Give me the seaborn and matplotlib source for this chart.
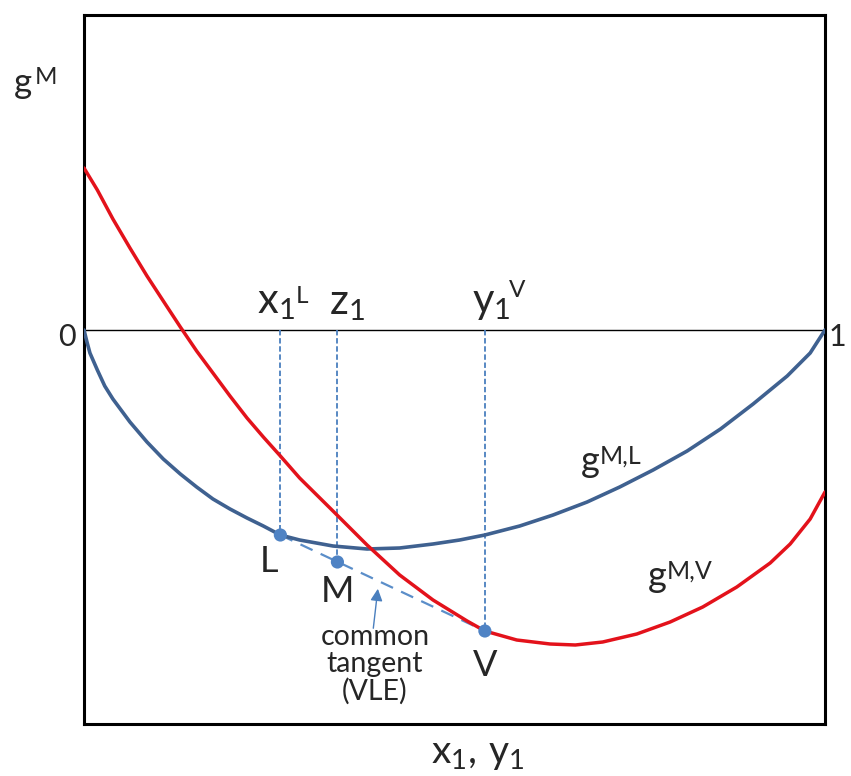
import matplotlib
matplotlib.use("Agg")
import matplotlib.pyplot as plt
import seaborn as sns
import pandas as pd

# ---- data (x = mole fraction, y = g^M in arbitrary units) ----
liq_x = [0.0, 0.004, 0.008, 0.018, 0.028, 0.039, 0.062, 0.085, 0.107, 0.130, 0.152,
         0.174, 0.197, 0.220, 0.242, 0.265, 0.291, 0.336, 0.382, 0.426, 0.471, 0.507,
         0.541, 0.588, 0.633, 0.679, 0.723, 0.768, 0.814, 0.859, 0.903, 0.949, 0.980, 1.0]
liq_y = [0.0, -0.12, -0.23, -0.40, -0.56, -0.69, -0.92, -1.12, -1.29, -1.44, -1.57,
         -1.69, -1.79, -1.88, -1.96, -2.05, -2.10, -2.16, -2.19, -2.18, -2.14, -2.10,
         -2.05, -1.96, -1.85, -1.72, -1.57, -1.40, -1.21, -0.99, -0.74, -0.46, -0.23, 0.0]
vap_x = [0.0, 0.018, 0.039, 0.062, 0.085, 0.107, 0.130, 0.152, 0.174, 0.197, 0.220,
         0.242, 0.265, 0.291, 0.336, 0.382, 0.426, 0.471, 0.517, 0.541, 0.584, 0.629,
         0.663, 0.700, 0.746, 0.791, 0.835, 0.881, 0.926, 0.953, 0.980, 1.0]
vap_y = [1.62, 1.40, 1.11, 0.82, 0.54, 0.29, 0.03, -0.21, -0.43, -0.66, -0.88,
         -1.07, -1.26, -1.48, -1.81, -2.15, -2.45, -2.70, -2.91, -3.01, -3.10, -3.14,
         -3.15, -3.12, -3.04, -2.92, -2.77, -2.57, -2.33, -2.14, -1.89, -1.62]
pt_names = ["L", "M", "V"]
pt_x = [0.265, 0.342, 0.541]
pt_y = [-2.05, -2.32, -3.01]
x_ticklabels = ["0", "1"]

liq = pd.DataFrame({"x": liq_x, "g": liq_y})
vap = pd.DataFrame({"x": vap_x, "g": vap_y})
pts = pd.DataFrame({"x": pt_x, "g": pt_y, "name": pt_names})

sns.set_theme(style="white")
plt.rcParams["font.family"] = ["Lato", "DejaVu Sans"]
plt.rcParams["mathtext.fontset"] = "custom"
plt.rcParams["mathtext.rm"] = "Lato"
plt.rcParams["mathtext.it"] = "Lato"
plt.rcParams["mathtext.bf"] = "Lato:bold"

W, H = 851, 776
fig = plt.figure(figsize=(W / 100, H / 100), dpi=100)
L, R, T, B = 84, 825, 15, 724
ax = fig.add_axes([L / W, 1 - B / H, (R - L) / W, (B - T) / H])
ax.set_xlim(0, 1)
ax.set_ylim(-3.94, 3.15)

BLUE = "#3f6190"
RED = "#e3121b"
LBLUE = "#4a7fbe"

# zero line
ax.axhline(0, color="black", lw=1.0, zorder=1)

# vertical dashed guides
for xv, yv in zip(pt_x, pt_y):
    ax.plot([xv, xv], [0, yv], color=LBLUE, lw=1.3, ls=(0, (3, 1.5)), zorder=2)

# common tangent (through L and V)
ax.plot([pt_x[0], pt_x[2]], [pt_y[0], pt_y[2]], color="#5b8ec9", lw=1.6,
        ls=(0, (6, 4)), zorder=2)

sns.lineplot(data=liq, x="x", y="g", ax=ax, color=BLUE, lw=2.6, sort=False,
             estimator=None, zorder=3)
sns.lineplot(data=vap, x="x", y="g", ax=ax, color=RED, lw=2.5, sort=False,
             estimator=None, zorder=4)
sns.scatterplot(data=pts, x="x", y="g", ax=ax, color="#4f83c4", s=90,
                edgecolor="none", zorder=5)

for s in ax.spines.values():
    s.set_linewidth(2.2)
    s.set_color("black")
ax.set_xticks([])
ax.set_yticks([])
ax.set_xlabel("")
ax.set_ylabel("")


def fx(px):
    return px / W


def fy(py):
    return 1 - py / H


def txt(px, py, s, size, ha="left", va="baseline", **kw):
    fig.text(fx(px), fy(py), s, fontsize=size, ha=ha, va=va, **kw)


# axis end labels
txt(76, 346, x_ticklabels[0], 22, ha="right")
txt(829, 346, x_ticklabels[1], 22)

# axis titles
txt(14, 93, "g", 25)
txt(35, 84, "M", 17.5)
txt(478, 763, r"$\mathregular{x_1,\,y_1}$", 28, ha="center")

# composition labels
txt(257, 313, r"$\mathregular{x_1}$", 30)
txt(296, 303, "L", 17.5)
txt(329, 314, r"$\mathregular{z_1}$", 30)
txt(472, 313, r"$\mathregular{y_1}$", 30)
txt(509, 297, "V", 17.5)

# curve labels
txt(581, 472, "g", 26)
txt(600, 464, "M,L", 18)
txt(648, 587, "g", 26)
txt(667, 579, "M,V", 18)

# point labels
for name, px, py in zip(pt_names, [269, 337, 485], [561, 591, 666]):
    txt(px, py, name, 26, ha="center", va="center")

# annotation
txt(375, 624, "common\ntangent\n(VLE)", 20.5, ha="center", va="top", linespacing=1.05)
ax.annotate("", xy=(0.397, -2.56), xytext=(0.390, -3.01),
            arrowprops=dict(arrowstyle="-|>,head_length=0.6,head_width=0.3",
                            color="#4a7fbe", lw=1.0))

fig.savefig("out.png", dpi=100)
